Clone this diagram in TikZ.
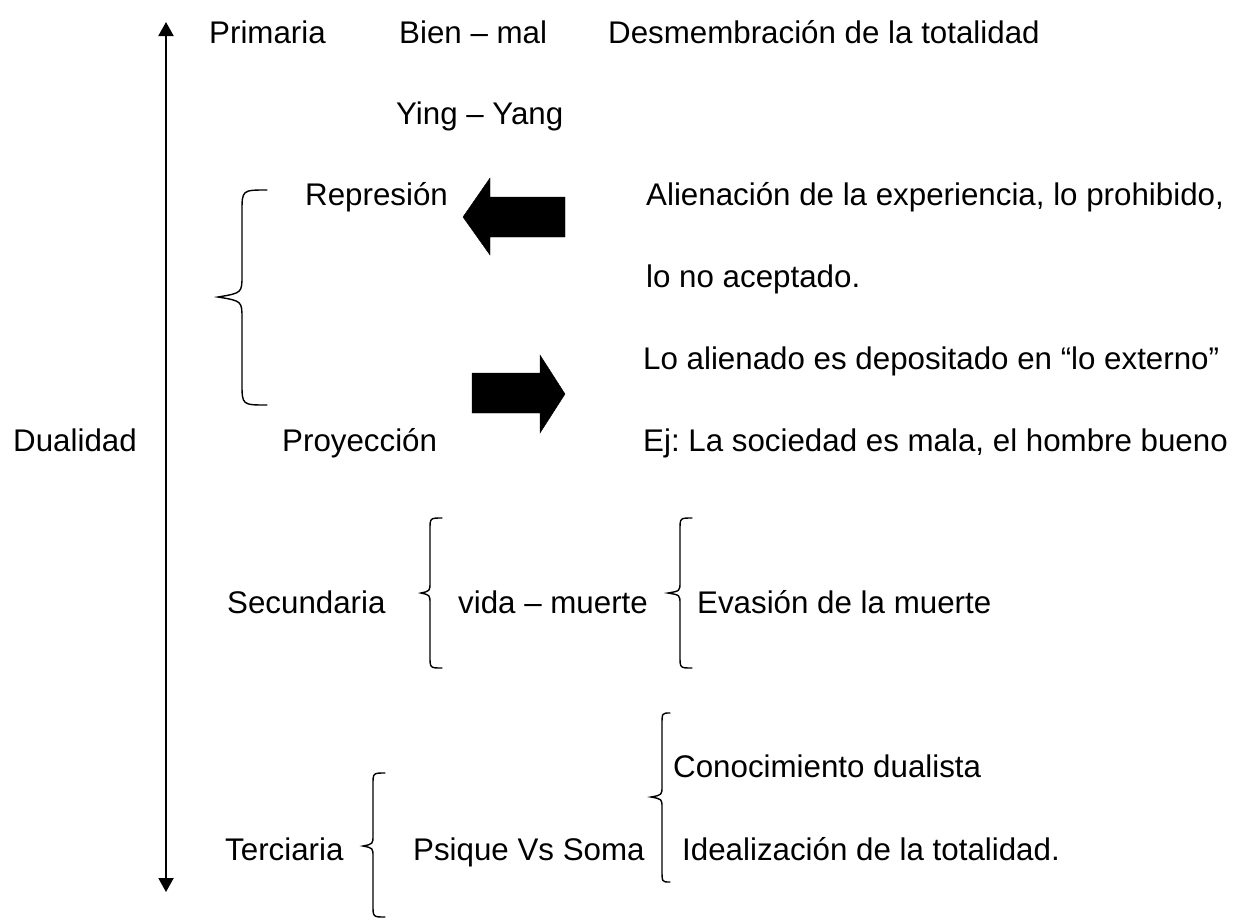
\documentclass[tikz,border=0pt]{standalone}
\usepackage{fontspec}
\setmainfont{Liberation Sans}
\usetikzlibrary{arrows.meta}
\frenchspacing
\begin{document}
\begin{tikzpicture}[x=1pt,y=-1pt,
  txt/.style={anchor=base west, inner sep=0pt, font=\fontsize{31.3}{36}\selectfont},
  bracestroke/.style={line width=1.4pt, line cap=round},
  blockarrow/.style={fill=black, draw=black, line width=0.4pt, line join=miter},
  axisline/.style={line width=2pt, draw=black}]
\useasboundingbox (0,0) rectangle (1244,919);

% vertical axis
\coordinate (axtop) at (166,22);
\coordinate (axbot) at (166,892);
\draw[axisline, {Triangle[width=15pt,length=14pt]}-{Triangle[width=15pt,length=14pt]}] (axbot) -- (axtop);

% texts
\node[txt] (primaria) at (209,43) {Primaria};
\node[txt] (bienmal) at (399,43) {Bien – mal};
\node[txt] (desm) at (608,43) {Desmembración de la totalidad};
\node[txt] (ying) at (396,124) {Ying – Yang};
\node[txt] (represion) at (305,205) {Represión};
\node[txt] (alien1) at (646,205) {Alienación de la experiencia, lo prohibido,};
\node[txt] (alien2) at (646,287) {lo no aceptado.};
\node[txt] (depos) at (643,369) {Lo alienado es depositado en “lo externo”};
\node[txt] (ej) at (643,451) {Ej: La sociedad es mala, el hombre bueno};
\node[txt] (dualidad) at (13,451) {Dualidad};
\node[txt] (proyeccion) at (282,451) {Proyección};
\node[txt] (secundaria) at (227,613) {Secundaria};
\node[txt] (vida) at (458,613) {vida – muerte};
\node[txt] (evasion) at (697,613) {Evasión de la muerte};
\node[txt] (conoc) at (673,777) {Conocimiento dualista};
\node[txt] (terciaria) at (225,860) {Terciaria};
\node[txt] (psique) at (413,860) {Psique Vs Soma};
\node[txt] (ideal) at (682,860) {Idealización de la totalidad.};

% block arrows
\fill[blockarrow] (565,197) -- (490,197) -- (490,178) -- (463,217) -- (490,255) -- (490,237) -- (565,237) -- cycle;
\fill[blockarrow] (472,373) -- (540,373) -- (540,355) -- (565,394) -- (540,433) -- (540,413) -- (472,413) -- cycle;

% braces
\draw[bracestroke] (267,190) .. controls (242,190) .. (242,212) -- (242,275)
  .. controls (242,293) .. (218,297) .. controls (242,301) .. (242,319) -- (242,383)
  .. controls (242,405) .. (267,405);
\draw[bracestroke] (442,518) .. controls (430,518) .. (430,530) -- (430,582)
  .. controls (430,591) .. (421,593) .. controls (430,595) .. (430,604) -- (430,656)
  .. controls (430,668) .. (442,668);
\draw[bracestroke] (692,518) .. controls (680,518) .. (680,530) -- (680,582)
  .. controls (680,591) .. (668,593) .. controls (680,595) .. (680,604) -- (680,656)
  .. controls (680,668) .. (692,668);
\draw[bracestroke] (670,713) .. controls (662,713) .. (662,725) -- (662,786)
  .. controls (662,795) .. (651,797) .. controls (662,799) .. (662,808) -- (662,870)
  .. controls (662,882) .. (670,882);
\draw[bracestroke] (385,773) .. controls (373,773) .. (373,785) -- (373,835)
  .. controls (373,844) .. (363,846) .. controls (373,848) .. (373,857) -- (373,905)
  .. controls (373,917) .. (385,917);
\end{tikzpicture}
\end{document}
